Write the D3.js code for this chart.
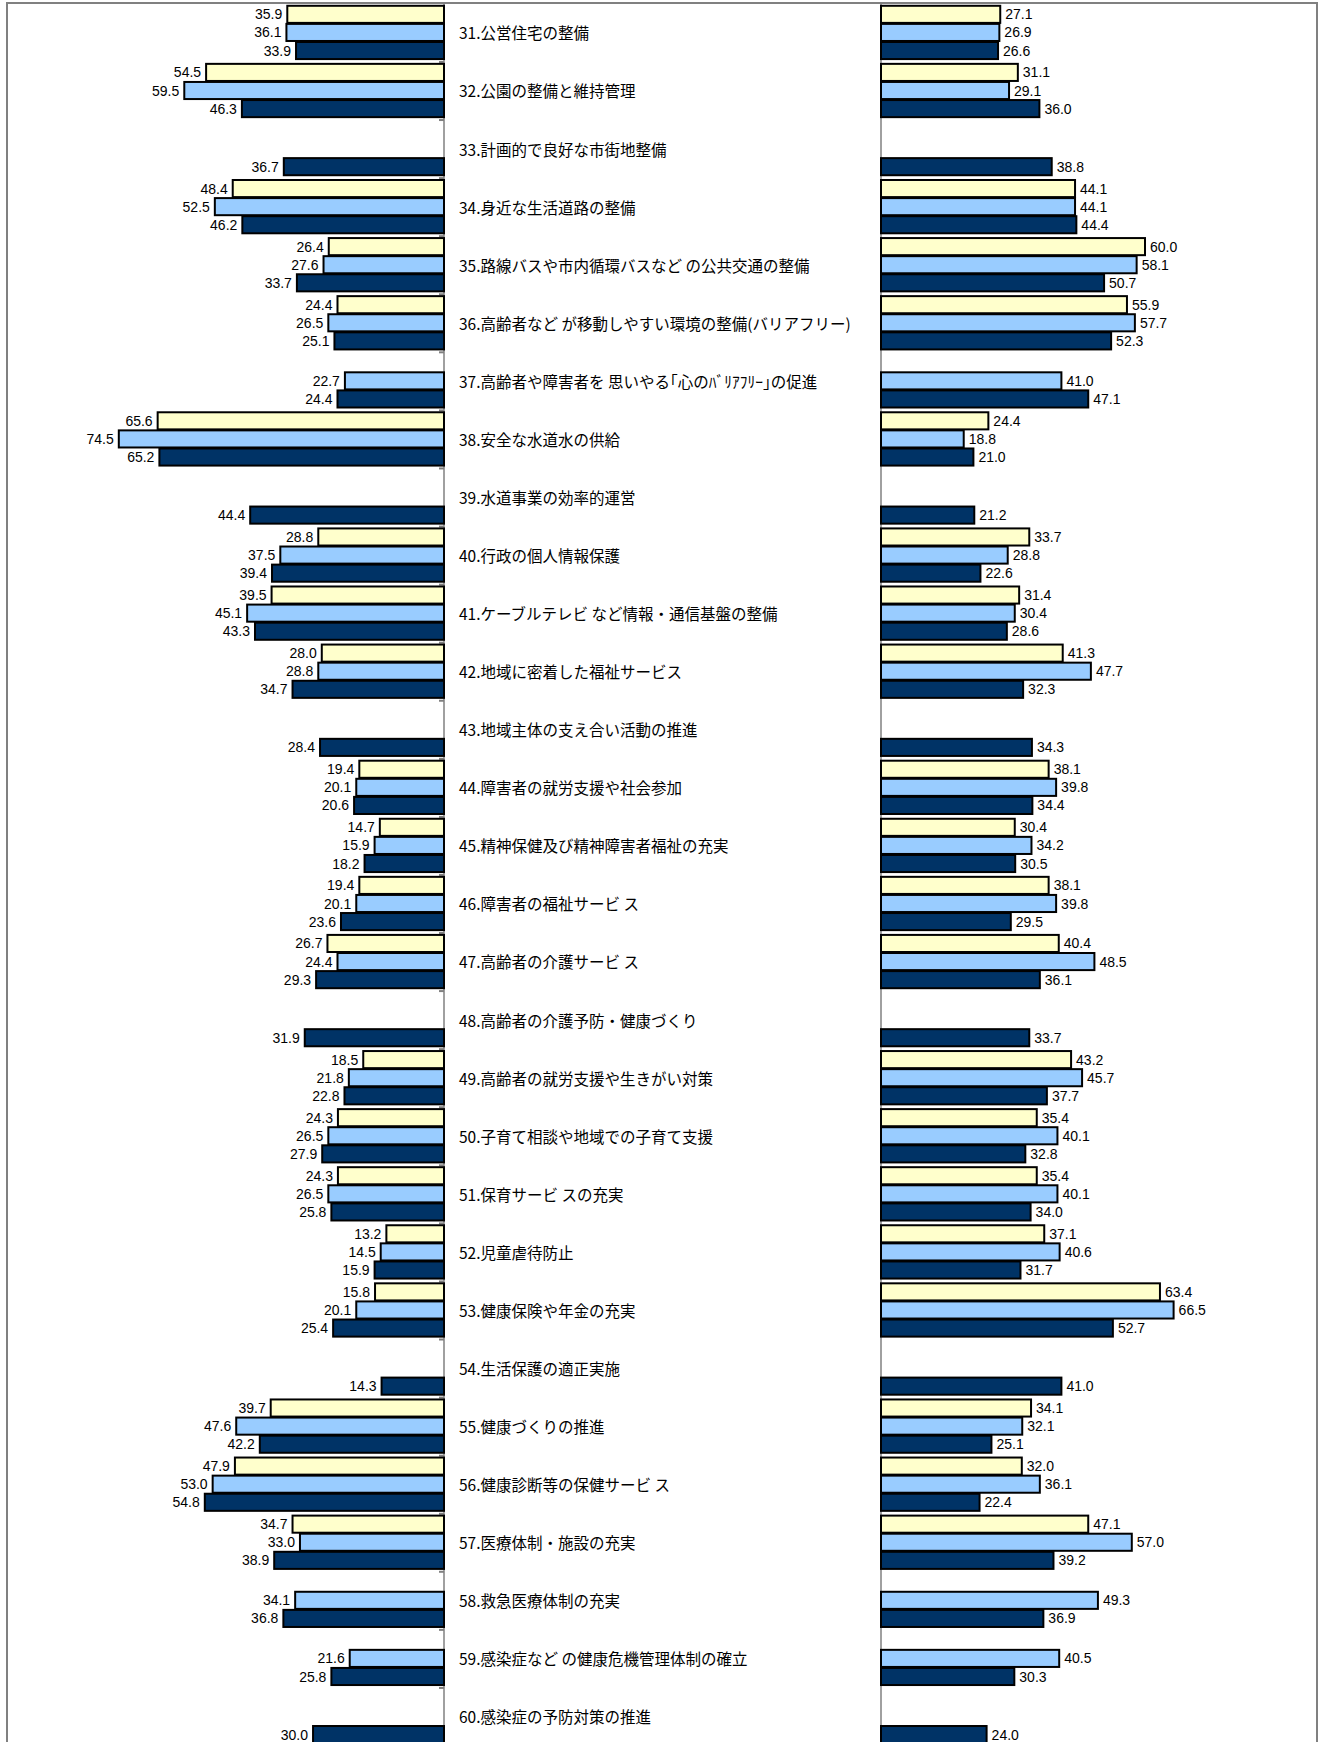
<!DOCTYPE html>
<html>
<head>
<meta charset="utf-8">
<script src="https://cdn.jsdelivr.net/npm/d3@7"></script>
<style>
  html, body { margin: 0; padding: 0; background: #fff; }
  svg { display: block; }
</style>
</head>
<body>
<svg id="chart" width="1324" height="1742"></svg>
<script>
// ---------------- DATA ----------------
const categories = [
  "31.公営住宅の整備",
  "32.公園の整備と維持管理",
  "33.計画的で良好な市街地整備",
  "34.身近な生活道路の整備",
  "35.路線バスや市内循環バスなど の公共交通の整備",
  "36.高齢者など が移動しやすい環境の整備(バリアフリー)",
  "37.高齢者や障害者を 思いやる｢心のﾊﾞﾘｱﾌﾘｰ｣の促進",
  "38.安全な水道水の供給",
  "39.水道事業の効率的運営",
  "40.行政の個人情報保護",
  "41.ケーブルテレビ など情報・通信基盤の整備",
  "42.地域に密着した福祉サービス",
  "43.地域主体の支え合い活動の推進",
  "44.障害者の就労支援や社会参加",
  "45.精神保健及び精神障害者福祉の充実",
  "46.障害者の福祉サービ ス",
  "47.高齢者の介護サービ ス",
  "48.高齢者の介護予防・健康づくり",
  "49.高齢者の就労支援や生きがい対策",
  "50.子育て相談や地域での子育て支援",
  "51.保育サービ スの充実",
  "52.児童虐待防止",
  "53.健康保険や年金の充実",
  "54.生活保護の適正実施",
  "55.健康づくりの推進",
  "56.健康診断等の保健サービ ス",
  "57.医療体制・施設の充実",
  "58.救急医療体制の充実",
  "59.感染症など の健康危機管理体制の確立",
  "60.感染症の予防対策の推進"
];

// Left panel, three series (yellow, light blue, navy)
const leftSeries1 = [35.9, 54.5, null, 48.4, 26.4, 24.4, null, 65.6, null, 28.8, 39.5, 28.0, null, 19.4, 14.7, 19.4, 26.7, null, 18.5, 24.3, 24.3, 13.2, 15.8, null, 39.7, 47.9, 34.7, null, null, null];
const leftSeries2 = [36.1, 59.5, null, 52.5, 27.6, 26.5, 22.7, 74.5, null, 37.5, 45.1, 28.8, null, 20.1, 15.9, 20.1, 24.4, null, 21.8, 26.5, 26.5, 14.5, 20.1, null, 47.6, 53.0, 33.0, 34.1, 21.6, null];
const leftSeries3 = [33.9, 46.3, 36.7, 46.2, 33.7, 25.1, 24.4, 65.2, 44.4, 39.4, 43.3, 34.7, 28.4, 20.6, 18.2, 23.6, 29.3, 31.9, 22.8, 27.9, 25.8, 15.9, 25.4, 14.3, 42.2, 54.8, 38.9, 36.8, 25.8, 30.0];

// Right panel, three series (yellow, light blue, navy)
const rightSeries1 = [27.1, 31.1, null, 44.1, 60.0, 55.9, null, 24.4, null, 33.7, 31.4, 41.3, null, 38.1, 30.4, 38.1, 40.4, null, 43.2, 35.4, 35.4, 37.1, 63.4, null, 34.1, 32.0, 47.1, null, null, null];
const rightSeries2 = [26.9, 29.1, null, 44.1, 58.1, 57.7, 41.0, 18.8, null, 28.8, 30.4, 47.7, null, 39.8, 34.2, 39.8, 48.5, null, 45.7, 40.1, 40.1, 40.6, 66.5, null, 32.1, 36.1, 57.0, 49.3, 40.5, null];
const rightSeries3 = [26.6, 36.0, 38.8, 44.4, 50.7, 52.3, 47.1, 21.0, 21.2, 22.6, 28.6, 32.3, 34.3, 34.4, 30.5, 29.5, 36.1, 33.7, 37.7, 32.8, 34.0, 31.7, 52.7, 41.0, 25.1, 22.4, 39.2, 36.9, 30.3, 24.0];

const seriesColors = ["#FFFFCC", "#99CCFF", "#003366"];

// ---------------- DRAWING ----------------
const svg = d3.select("#chart");

// frame
svg.append("rect")
  .attr("x", 7).attr("y", 3)
  .attr("width", 1310).attr("height", 1800)
  .attr("fill", "#fff")
  .attr("stroke", "#808080")
  .attr("stroke-width", 2);

const yBand = d3.scaleBand()
  .domain(categories)
  .range([3.9, 3.9 + 30 * 58.07])
  .paddingInner(0.065)
  .paddingOuter(0.0325);

const ySlot = d3.scaleBand()
  .domain([0, 1, 2])
  .range([0, yBand.bandwidth()]);

const xLeft = d3.scaleLinear().domain([0, 100]).range([444, 444 - 436.5]);
const xRight = d3.scaleLinear().domain([0, 100]).range([881, 881 + 440]);

const leftData = [leftSeries1, leftSeries2, leftSeries3];
const rightData = [rightSeries1, rightSeries2, rightSeries3];

function flatten(seriesArr) {
  const out = [];
  seriesArr.forEach((arr, s) => {
    arr.forEach((v, i) => {
      if (v !== null && v !== undefined) out.push({ cat: categories[i], s, v });
    });
  });
  return out;
}

// axis lines
const yTop = 3, yBottom = 1742;
svg.append("line")
  .attr("x1", xLeft(0)).attr("x2", xLeft(0))
  .attr("y1", yTop).attr("y2", yBottom)
  .attr("stroke", "#808080").attr("stroke-width", 1.5);
svg.append("line")
  .attr("x1", xRight(0)).attr("x2", xRight(0))
  .attr("y1", yTop).attr("y2", yBottom)
  .attr("stroke", "#808080").attr("stroke-width", 1.5);

// tick marks at group boundaries on left axis
const step = yBand.step();
const boundaries = categories.slice(1).map(c => yBand(c) - (step - yBand.bandwidth()) / 2);
svg.append("g").selectAll("line")
  .data(boundaries)
  .join("line")
  .attr("x1", xLeft(0) - 5).attr("x2", xLeft(0))
  .attr("y1", d => d).attr("y2", d => d)
  .attr("stroke", "#808080").attr("stroke-width", 2);

const barH = ySlot.bandwidth() - 1;

function drawPanel(seriesArr, x, side) {
  const data = flatten(seriesArr);
  const g = svg.append("g");
  g.selectAll("rect")
    .data(data)
    .join("rect")
    .attr("x", d => Math.min(x(0), x(d.v)))
    .attr("y", d => yBand(d.cat) + ySlot(d.s))
    .attr("width", d => Math.abs(x(d.v) - x(0)))
    .attr("height", barH)
    .attr("fill", d => seriesColors[d.s])
    .attr("stroke", "#000")
    .attr("stroke-width", 2);

  g.selectAll("text")
    .data(data)
    .join("text")
    .attr("x", d => side === "left" ? x(d.v) - 5 : x(d.v) + 5)
    .attr("y", d => yBand(d.cat) + ySlot(d.s) + barH / 2)
    .attr("dy", "0.36em")
    .attr("text-anchor", side === "left" ? "end" : "start")
    .attr("font-family", "'Liberation Sans', Arial, sans-serif")
    .attr("font-size", 14)
    .attr("fill", "#000")
    .text(d => d.v.toFixed(1));
}

drawPanel(leftData, xLeft, "left");
drawPanel(rightData, xRight, "right");

// category labels
svg.append("g").selectAll("text")
  .data(categories)
  .join("text")
  .attr("x", 459)
  .attr("y", d => yBand(d) + yBand.bandwidth() / 2 + 1)
  .attr("dy", "0.35em")
  .attr("font-family", "'Noto Sans CJK JP', sans-serif")
  .attr("font-size", 15.5)
  .attr("fill", "#000")
  .text(d => d);
</script>
</body>
</html>
